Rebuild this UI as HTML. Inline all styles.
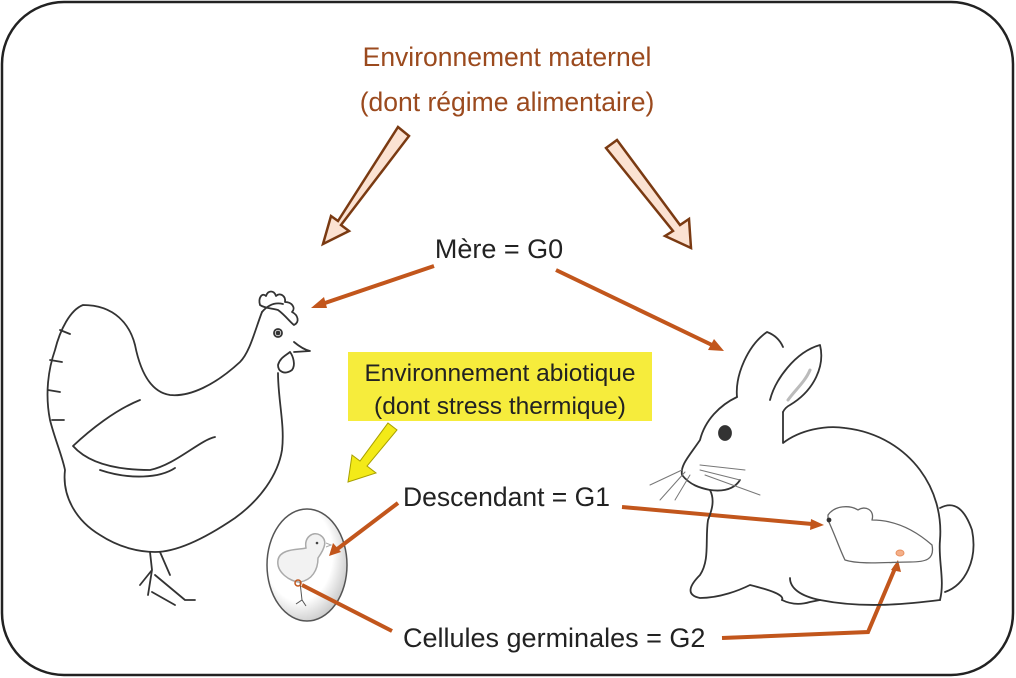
<!DOCTYPE html>
<html><head><meta charset="utf-8"><style>
html,body{margin:0;padding:0;background:#fff;}
svg{display:block;}
text{font-family:"Liberation Sans",Arial,sans-serif;}
</style></head><body>
<svg width="1016" height="678" viewBox="0 0 1016 678" xmlns="http://www.w3.org/2000/svg">
<rect x="2" y="2" width="1011" height="673" rx="62" ry="62" fill="#fff" stroke="#222" stroke-width="2.5"/>

<text x="507" y="66" font-size="26.5" fill="#9b4a1e" text-anchor="middle">Environnement maternel</text>
<text x="507" y="111" font-size="26.5" fill="#9b4a1e" text-anchor="middle">(dont régime alimentaire)</text>

<g fill="#fbe2d2" stroke="#7a3a12" stroke-width="2.5" stroke-linejoin="miter">
<polygon points="398,127 409,136 341,225 349,231 323,244 331,216 338,221"/>
<polygon points="606,148 617,140 680,225 689,219 691,248 665,236 673,231"/>
</g>

<text x="499" y="258" font-size="27" fill="#222" text-anchor="middle">Mère = G0</text>

<!-- egg -->
<defs><radialGradient id="eg" cx="0.4" cy="0.4" r="0.7"><stop offset="0.6" stop-color="#fff"/><stop offset="1" stop-color="#bbb"/></radialGradient></defs>
<ellipse cx="307" cy="565" rx="40" ry="56" fill="url(#eg)" stroke="#555" stroke-width="1.5"/>
<path d="M318,558 C325,548 328,540 320,535 C313,531 304,537 306,548 C300,550 280,548 278,560 C276,572 290,582 300,582 C312,580 318,570 318,558 Z" fill="#f2f2f2" stroke="#aaa" stroke-width="1.5"/>
<path d="M326,543 L331,545 L326,547" stroke="#aaa" fill="none"/>
<circle cx="317" cy="543" r="1.3" fill="#444"/>
<path d="M300,582 L302,600 M296,604 L302,600 L306,606" stroke="#555" fill="none"/>
<ellipse cx="298" cy="583" rx="3" ry="3" fill="none" stroke="#c2561c" stroke-width="1.5"/>

<g stroke="#c2561c" stroke-width="4" fill="none">
<line x1="434" y1="266" x2="322" y2="304"/>
<line x1="556" y1="270" x2="712" y2="345"/>
<line x1="398" y1="503" x2="336" y2="550"/>
<line x1="622" y1="507" x2="812" y2="524"/>
<line x1="392" y1="631" x2="302" y2="585"/>
<polyline points="722,638 868,632 896,566"/>
</g>
<g fill="#c2561c">
<polygon points="311,308 324,297 327,308"/>
<polygon points="724,351 708,350 714,339"/>
<polygon points="329,556 333,543 341,552"/>
<polygon points="824,525 811,519 810,530"/>
<polygon points="898,560 891,570 901,572"/>
</g>

<rect x="348" y="352" width="304" height="69" fill="#f6ec3c"/>
<text x="500" y="381" font-size="24.5" fill="#222" text-anchor="middle">Environnement abiotique</text>
<text x="500" y="414" font-size="24.5" fill="#222" text-anchor="middle">(dont stress thermique)</text>
<polygon points="388,423 397,430 367,466 376,473 348,482 352,455 360,461" fill="#f3ea18" stroke="#a8a000" stroke-width="1"/>

<text x="403" y="506" font-size="26.5" fill="#222">Descendant = G1</text>
<text x="403" y="647" font-size="27" fill="#222">Cellules germinales = G2</text>

<!-- chicken -->
<g fill="none" stroke="#333" stroke-width="1.8" stroke-linejoin="round" stroke-linecap="round">
<path d="M262,312 C255,330 250,352 240,362 C215,385 190,397 170,395 C150,392 140,370 135,345 C130,325 115,305 83,305 C70,310 60,330 55,350 C48,370 45,395 50,420 C55,440 62,455 65,470 C62,495 75,520 100,535 C120,548 140,552 155,552 C180,552 210,535 235,518 C260,500 278,475 282,450 C285,425 278,400 278,373"/>
<path d="M262,312 C268,305 275,302 283,304"/>
<path d="M260,305 C258,298 262,292 266,296 C268,290 274,290 276,296 C280,292 286,296 285,302 C292,302 296,308 292,312 C298,315 300,322 294,325 C290,322 285,315 278,310 C270,308 264,308 260,305 Z"/>
<circle cx="278" cy="333" r="4"/><circle cx="278" cy="333" r="1.5" fill="#333"/>
<path d="M294,342 C300,347 305,350 310,351 L294,352"/>
<path d="M290,352 C285,356 280,358 278,365 C278,372 285,375 292,370 C296,365 293,356 290,352"/>
<path d="M73,446 C90,430 115,410 140,400 M73,446 C90,465 120,470 150,470 C175,465 200,440 215,437"/>
<path d="M100,470 C130,480 160,478 175,468"/>
<path d="M60,330 L70,334 M50,360 L62,362 M48,390 L60,392 M52,420 L64,420"/>
<path d="M150,552 L152,570 L140,585 M152,570 L148,595 M155,575 L185,600 L195,600 M152,592 L175,605 M160,552 L170,575"/>
</g>

<!-- rabbit -->
<g fill="none" stroke="#333" stroke-width="1.8" stroke-linejoin="round" stroke-linecap="round">
<path d="M737,397 C735,375 748,345 767,332 C775,335 780,340 783,347"/>
<path d="M770,400 C775,380 795,352 820,345 C825,365 815,390 790,405 C786,407 784,410 783,412"/>
<path d="M788,400 C795,390 805,382 810,370" stroke="#bbb" stroke-width="3"/>
<path d="M783,412 L783,443 C800,430 825,425 845,428 C880,432 905,450 920,470 C935,490 942,515 940,540 C938,560 945,580 940,600"/>
<path d="M940,508 C955,500 965,510 972,530 C978,560 965,585 945,592"/>
<path d="M940,600 C900,605 860,608 820,600 C800,596 790,588 790,578"/>
<path d="M820,600 L810,602 C800,605 790,604 782,600"/>
<path d="M737,397 C720,405 705,420 700,440 C690,455 680,465 682,475 C690,485 700,488 710,490 C715,500 712,510 708,520 C705,540 710,560 700,575 C690,585 685,595 700,598 C720,598 740,590 750,585 C770,590 785,595 782,600"/>
<path d="M710,490 C725,492 735,488 740,480"/>
<ellipse cx="725" cy="433" rx="6" ry="7" fill="#333"/>
<path d="M682,470 L650,485 M685,472 L660,500 M690,475 L675,500 M700,470 L740,480 M705,475 L760,495 M700,465 L745,470" stroke="#777" stroke-width="1"/>
<path d="M828,515 C835,505 850,505 858,510 C865,505 875,510 872,520 C895,520 915,530 932,545 C935,560 925,562 910,562 C890,562 860,565 845,560 C840,550 835,535 828,520 Z" stroke="#666" stroke-width="1.3"/>
<circle cx="829" cy="520" r="1.5" fill="#333"/>
<ellipse cx="900" cy="553" rx="4" ry="3" fill="#f4b08a" stroke="#e89060" stroke-width="1"/>
</g>
</svg>
</body></html>
